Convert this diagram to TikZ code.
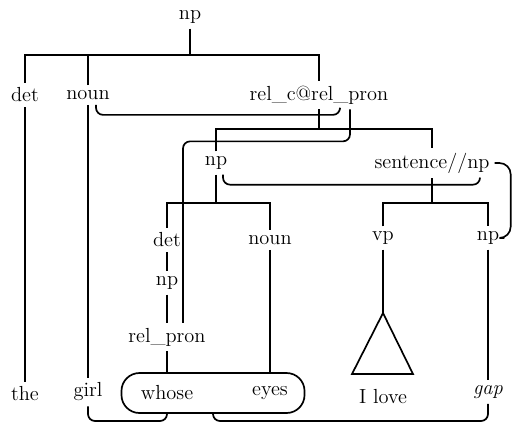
\documentclass[tikz,border=0pt]{standalone}
\begin{document}
\begin{tikzpicture}[x=0.025cm,y=-0.025cm,
  every node/.style={font=\fontsize{14.5}{17}\selectfont,inner sep=3.5pt},
  tree/.style={line width=1.2pt},
  link/.style={line width=1.2pt,rounded corners=5pt}]
\useasboundingbox (0,0) rectangle (518,423);

\node (top) at (190,17) {np};
\node (det1) at (25,95) {det};
\node (noun1) at (88,95) {noun};
\node (relc) at (319,95) {rel\_c@rel\_pron};
\node (npa) at (216,163) {np};
\node (snp) at (432,163) {sentence//np};
\node (det2) at (167,240) {det};
\node (noun2) at (270,240) {noun};
\node (vp) at (383,238) {vp};
\node (npgap) at (488,238) {np};
\node (np3) at (167,283) {np};
\node (relpron) at (167,337) {rel\_pron};
\node (the) at (25,394) {the};
\node (girl) at (88,392) {girl};
\node[draw,tree,rounded corners=0.45cm,minimum width=4.575cm,minimum height=1cm] (grp) at (213,393) {};
\node (whose) at (167,393) {whose};
\node (eyes) at (270,393) {eyes};
\node (ilove) at (383,397) {I love};
\node (gap) at (488,392) {\textit{gap}};

\coordinate (j1) at (190,55);
\coordinate (j2) at (320,129);
\coordinate (j3) at (216,203);
\coordinate (j4) at (432,203);
\coordinate (apex) at (383,313);
\coordinate (base) at (0,421);

\draw[tree] (top.south) -- (j1);
\draw[tree] (det1.north) |- (j1) -| (relc.north);
\draw[tree] (noun1.north) -- (noun1.north |- j1);
\draw[tree] (relc.south) -- (relc.south |- j2);
\draw[tree] (npa.north) |- (j2) -| (snp.north);
\draw[tree] (npa.south) -- (npa.south |- j3);
\draw[tree] (det2.north) |- (j3) -| (noun2.north);
\draw[tree] (snp.south) -- (snp.south |- j4);
\draw[tree] (vp.north) |- (j4) -| (npgap.north);
\draw[tree] (det1) -- (the);
\draw[tree] (noun1) -- (girl);
\draw[tree] (det2) -- (np3);
\draw[tree] (np3) -- (relpron);
\draw[tree] (relpron.south) -- (relpron.south |- grp.north);
\draw[tree] (noun2.south) -- (noun2.south |- grp.north);
\draw[tree] (vp.south) -- (apex);
\draw[tree] (apex) -- (352,374) -- (413,374) -- cycle;
\draw[tree] (npgap) -- (gap);

\draw[link] ([xshift=.2cm]noun1.south) -- ++(0,10) -| ([xshift=.525cm]relc.south);
\draw[link] ([xshift=.775cm]relc.south) -- ++(0,32) -| ([xshift=.4cm]relpron.north);
\draw[link] ([xshift=.175cm]npa.south) -- ++(0,10) -| ([xshift=1.2cm]snp.south);
\draw[link,rounded corners=8pt] (snp.east) -- ++(16,0) |- (npgap.east);
\draw[link] (girl.south) -- (girl.south |- base) -| (whose.south |- grp.south);
\draw[link] (grp.south) -- (grp.south |- base) -| (gap.south);
\end{tikzpicture}
\end{document}
